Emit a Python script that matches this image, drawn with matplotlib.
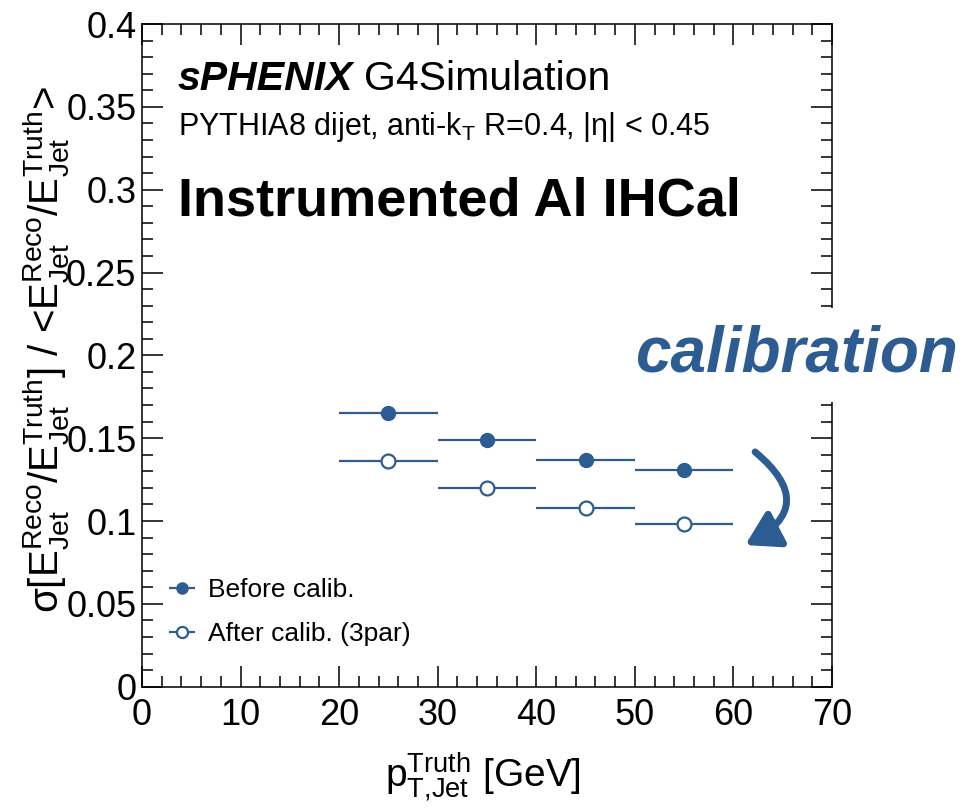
import matplotlib
matplotlib.use("Agg")
import matplotlib.pyplot as plt
import numpy as np
from matplotlib.ticker import MultipleLocator

plt.rcParams['font.family'] = ['Liberation Sans', 'DejaVu Sans']
plt.rcParams['mathtext.fontset'] = 'custom'
plt.rcParams['mathtext.rm'] = 'Liberation Sans'
plt.rcParams['mathtext.it'] = 'Liberation Sans:italic'
plt.rcParams['mathtext.bf'] = 'Liberation Sans:bold'
plt.rcParams['mathtext.default'] = 'regular'

# ---- data ----
pt_centers = [25, 35, 45, 55]
pt_halfwidth = [5, 5, 5, 5]
before_calib = [0.165, 0.149, 0.137, 0.131]
after_calib = [0.136, 0.120, 0.108, 0.0985]
series_labels = ["Before calib.", "After calib. (3par)"]

blue = '#2c5c92'

fig = plt.figure(figsize=(9.68, 8.09), dpi=100)
ax = fig.add_axes([142/968, 1-686.7/809, 690/968, 662.7/809])

ax.errorbar(pt_centers, before_calib, xerr=pt_halfwidth, fmt='o', color=blue,
            markersize=10, elinewidth=1.6, capsize=0, label=series_labels[0])
ax.errorbar(pt_centers, after_calib, xerr=pt_halfwidth, fmt='o', color=blue,
            markerfacecolor='white', markeredgecolor=blue, markeredgewidth=1.6,
            markersize=10, elinewidth=1.6, capsize=0, label=series_labels[1])

ax.set_xlim(0, 70)
ax.set_ylim(0, 0.4)
ax.xaxis.set_major_locator(MultipleLocator(10))
ax.xaxis.set_minor_locator(MultipleLocator(2))
ax.yaxis.set_minor_locator(MultipleLocator(0.01))
ax.set_yticks([0, 0.05, 0.1, 0.15, 0.2, 0.25, 0.3, 0.35, 0.4])
ax.set_yticklabels(['0', '0.05', '0.1', '0.15', '0.2', '0.25', '0.3', '0.35', '0.4'])

ax.tick_params(which='both', direction='in', top=True, right=True, width=1.1, colors='black')
ax.tick_params(which='major', length=15)
ax.tick_params(which='minor', length=8)
ax.tick_params(axis='x', labelsize=26, pad=8)
ax.tick_params(axis='y', labelsize=26, pad=4)
for s in ax.spines.values():
    s.set_linewidth(1.1)

# y label
ax.text(-0.138, 0.508,
        r'$\sigma[E^{Reco}_{Jet}/E^{Truth}_{Jet}]$ / <$E^{Reco}_{Jet}/E^{Truth}_{Jet}$>',
        transform=ax.transAxes, rotation=90, ha='center', va='center', fontsize=29)

# x label
fig.text(483/968, 1-788/809, r'$p^{Truth}_{T{,}Jet}$ [GeV]', ha='center', va='baseline', fontsize=28)

# annotations
t1 = fig.text(178/968, 1-90/809, 'sPHENIX', fontsize=29.5, fontweight='bold', fontstyle='italic',
              ha='left', va='baseline')
fig.canvas.draw()
bb = t1.get_window_extent(renderer=fig.canvas.get_renderer())
x_after = (bb.x1 + 10) / fig.bbox.width
fig.text(x_after, 1-90/809, 'G4Simulation', fontsize=29.5, ha='left', va='baseline')
fig.text(178/968, 1-135/809, r'PYTHIA8 dijet, anti-k$_{T}$ R=0.4, |$\eta$| < 0.45', fontsize=22,
         ha='left', va='baseline')
fig.text(178/968, 1-215/809, 'Instrumented Al IHCal', fontsize=39, fontweight='bold',
         ha='left', va='baseline')
fig.text(635/968, 1-372/809, 'calibration', fontsize=46, fontweight='bold', fontstyle='italic',
         color=blue, ha='left', va='baseline',
         bbox=dict(boxstyle='square,pad=0.27', facecolor='white', edgecolor='none'))

# curved arrow
ax.annotate('', xy=(61.2, 0.0855), xytext=(62.2, 0.1417),
            arrowprops=dict(arrowstyle='-|>,head_length=1.0,head_width=0.6', color=blue, lw=5,
                            connectionstyle='arc3,rad=-0.75', shrinkA=0, shrinkB=0,
                            mutation_scale=20))

leg = ax.legend(loc='upper left', bbox_to_anchor=(0.033, 0.164), frameon=False, fontsize=19,
                handlelength=1.3, handletextpad=0.35, borderpad=0, borderaxespad=0,
                labelspacing=0.75, markerscale=0.8)

fig.savefig('out.png', dpi=100)
